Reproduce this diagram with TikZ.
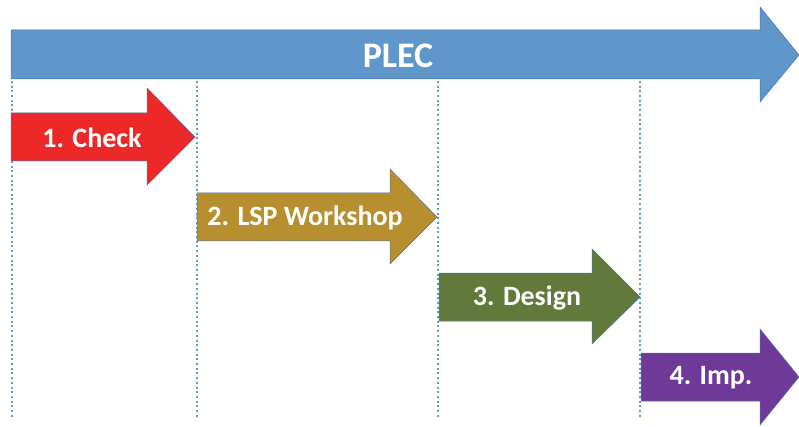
\documentclass[tikz,border=0pt]{standalone}
\usepackage{fontspec}
\setmainfont{Carlito}
\definecolor{cblue}{HTML}{6097CB}
\definecolor{cred}{HTML}{EC2828}
\definecolor{cgold}{HTML}{B88F2F}
\definecolor{cgreen}{HTML}{617A3B}
\definecolor{cpurple}{HTML}{6F3A97}
\definecolor{cline}{HTML}{5B9BD5}
\definecolor{cedge}{HTML}{4A74A0}
\tikzset{
  arrowshape/.style={draw=cedge, line width=0.5pt, line join=miter},
  label/.style={text=white, font=\fontsize{28}{30}\selectfont\bfseries, inner sep=0pt},
  guide/.style={draw=cline, line width=2pt, dash pattern=on 2pt off 2.7pt}
}
\begin{document}
\begin{tikzpicture}[x=1pt,y=-1pt]
\useasboundingbox (0,0) rectangle (799,427);
% guide lines
\coordinate (g1t) at (11.5,81); \coordinate (g1b) at (11.5,418);
\coordinate (g2t) at (197,81);  \coordinate (g2b) at (197,418);
\coordinate (g3t) at (438,81);  \coordinate (g3b) at (438,418);
\coordinate (g4t) at (640,81);  \coordinate (g4b) at (640,418);
\draw[guide] (g1t) -- (g1b);
\draw[guide] (g2t) -- (g2b);
\draw[guide] (g3t) -- (g3b);
\draw[guide] (g4t) -- (g4b);
% big arrow
\filldraw[arrowshape, fill=cblue] (11,30) -- (760,30) -- (760,7) -- (799,55) -- (760,102) -- (760,79) -- (11,79) -- cycle;
\node[label, font=\fontsize{36}{38}\selectfont\bfseries] (plec) at (398,56) {PLEC};
% step arrows
\filldraw[arrowshape, fill=cred] (11,113) -- (147,113) -- (147,88) -- (195,137) -- (147,185) -- (147,161) -- (11,161) -- cycle;
\node[label] (s1) at (92,138) {1. Check};
\filldraw[arrowshape, fill=cgold] (197,193) -- (390,193) -- (390,169) -- (437,217) -- (390,264) -- (390,241) -- (197,241) -- cycle;
\node[label] (s2) at (305,218) {2. LSP Workshop};
\filldraw[arrowshape, fill=cgreen] (439,273) -- (592,273) -- (592,249) -- (640,297) -- (592,344) -- (592,321) -- (439,321) -- cycle;
\node[label] (s3) at (527,298) {3. Design};
\filldraw[arrowshape, fill=cpurple] (641,353) -- (760,353) -- (760,329) -- (799,377) -- (760,425) -- (760,401) -- (641,401) -- cycle;
\node[label] (s4) at (711,378) {4. Imp.};
\end{tikzpicture}
\end{document}
